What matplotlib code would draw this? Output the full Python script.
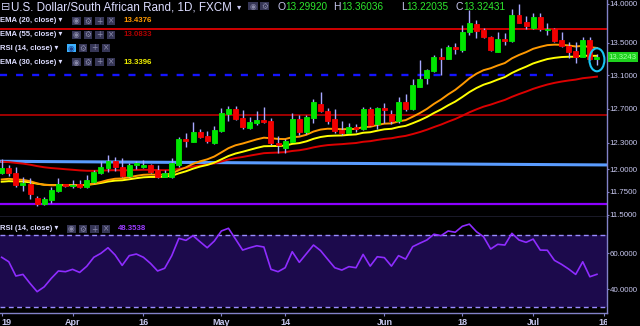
import numpy as np
import matplotlib
matplotlib.use("Agg")
import matplotlib.pyplot as plt
from matplotlib.patches import Rectangle, Ellipse
from matplotlib.ticker import FixedLocator, FormatStrFormatter, NullLocator
from matplotlib.transforms import Bbox, TransformedBbox

plt.rcParams['font.family'] = ['Liberation Sans', 'DejaVu Sans']

# daily candles USD/ZAR
opens = [11.962, 12.018, 11.959, 11.823, 11.837, 11.680, 11.618, 11.662, 11.760, 11.834,
         11.818, 11.837, 11.807, 11.862, 11.959, 12.015, 12.093, 12.029, 11.929, 12.045,
         12.026, 12.045, 11.993, 11.918, 11.918, 12.049, 12.344, 12.313, 12.425, 12.379,
         12.298, 12.437, 12.639, 12.698, 12.588, 12.468, 12.533, 12.565, 12.553, 12.298,
         12.238, 12.313, 12.577, 12.421, 12.588, 12.754, 12.671, 12.573, 12.448, 12.417,
         12.487, 12.456, 12.695, 12.518, 12.703, 12.639, 12.550, 12.777, 12.694, 12.961,
         13.070, 13.152, 13.329, 13.304, 13.454, 13.412, 13.636, 13.741, 13.665, 13.580,
         13.391, 13.547, 13.525, 13.857, 13.771, 13.687, 13.828, 13.665, 13.678, 13.538,
         13.466, 13.400, 13.329, 13.538, 13.29920]
highs = [12.116, 12.049, 12.023, 11.911, 11.900, 11.705, 11.691, 11.800, 11.900, 11.837,
         11.878, 11.881, 11.937, 11.993, 12.097, 12.161, 12.135, 12.124, 12.074, 12.093,
         12.105, 12.060, 12.049, 11.993, 12.124, 12.367, 12.410, 12.536, 12.463, 12.437,
         12.491, 12.703, 12.733, 12.733, 12.686, 12.597, 12.674, 12.718, 12.585, 12.379,
         12.348, 12.651, 12.624, 12.627, 12.813, 12.893, 12.706, 12.694, 12.557, 12.533,
         12.518, 12.715, 12.718, 12.722, 12.762, 12.683, 12.834, 12.877, 13.051, 13.288,
         13.177, 13.350, 13.434, 13.475, 13.504, 13.729, 13.922, 13.793, 13.690, 13.588,
         13.636, 13.623, 13.935, 14.000, 13.844, 13.879, 13.879, 13.750, 13.687, 13.644,
         13.517, 13.517, 13.580, 13.580, 13.36036]
lows = [11.948, 11.926, 11.807, 11.763, 11.673, 11.600, 11.607, 11.632, 11.746, 11.804,
        11.790, 11.790, 11.796, 11.851, 11.948, 11.973, 11.985, 11.911, 11.918, 12.007,
        12.011, 11.962, 11.900, 11.911, 11.903, 12.029, 12.256, 12.307, 12.356, 12.302,
        12.290, 12.425, 12.557, 12.561, 12.456, 12.463, 12.503, 12.526, 12.272, 12.181,
        12.181, 12.307, 12.387, 12.398, 12.526, 12.655, 12.518, 12.410, 12.390, 12.410,
        12.428, 12.448, 12.498, 12.456, 12.533, 12.518, 12.533, 12.667, 12.683, 12.954,
        12.994, 13.144, 13.103, 13.296, 13.362, 13.391, 13.601, 13.559, 13.559, 13.404,
        13.384, 13.475, 13.517, 13.750, 13.678, 13.678, 13.656, 13.601, 13.517, 13.454,
        13.309, 13.255, 13.322, 13.288, 13.22035]
closes = [12.018, 11.956, 11.823, 11.845, 11.724, 11.618, 11.673, 11.771, 11.834, 11.815,
          11.829, 11.800, 11.881, 11.967, 12.026, 12.093, 12.023, 11.929, 12.049, 12.074,
          12.049, 11.973, 11.911, 11.956, 12.074, 12.344, 12.318, 12.428, 12.371, 12.318,
          12.448, 12.643, 12.698, 12.580, 12.487, 12.541, 12.565, 12.541, 12.295, 12.272,
          12.325, 12.577, 12.425, 12.600, 12.777, 12.667, 12.557, 12.440, 12.417, 12.487,
          12.463, 12.698, 12.510, 12.703, 12.683, 12.553, 12.774, 12.694, 12.978, 13.054,
          13.165, 13.329, 13.300, 13.454, 13.425, 13.636, 13.750, 13.656, 13.572, 13.412,
          13.547, 13.525, 13.857, 13.758, 13.720, 13.828, 13.674, 13.678, 13.529, 13.462,
          13.391, 13.329, 13.538, 13.296, 13.32431]

ema20 = [11.887, 11.894, 11.887, 11.883, 11.868, 11.844, 11.828, 11.823, 11.824, 11.823,
         11.824, 11.822, 11.828, 11.841, 11.859, 11.881, 11.895, 11.898, 11.912, 11.927,
         11.939, 11.942, 11.939, 11.941, 11.954, 11.991, 12.022, 12.061, 12.090, 12.112,
         12.144, 12.191, 12.239, 12.272, 12.292, 12.316, 12.340, 12.359, 12.353, 12.345,
         12.343, 12.365, 12.371, 12.393, 12.430, 12.453, 12.463, 12.461, 12.457, 12.459,
         12.460, 12.482, 12.485, 12.506, 12.522, 12.525, 12.549, 12.563, 12.603, 12.646,
         12.695, 12.755, 12.807, 12.868, 12.922, 12.990, 13.062, 13.119, 13.162, 13.186,
         13.220, 13.250, 13.308, 13.350, 13.385, 13.427, 13.452, 13.473, 13.479, 13.477,
         13.469, 13.456, 13.464, 13.448, 13.4376]
ema30 = [11.862, 11.868, 11.865, 11.864, 11.855, 11.840, 11.829, 11.825, 11.826, 11.825,
         11.825, 11.823, 11.827, 11.836, 11.848, 11.864, 11.874, 11.878, 11.889, 11.901,
         11.911, 11.915, 11.915, 11.918, 11.928, 11.955, 11.978, 12.007, 12.031, 12.049,
         12.075, 12.112, 12.150, 12.178, 12.198, 12.220, 12.242, 12.261, 12.263, 12.264,
         12.268, 12.288, 12.297, 12.317, 12.346, 12.367, 12.379, 12.383, 12.385, 12.392,
         12.397, 12.416, 12.422, 12.440, 12.456, 12.462, 12.482, 12.496, 12.527, 12.561,
         12.600, 12.647, 12.689, 12.738, 12.782, 12.837, 12.896, 12.945, 12.985, 13.013,
         13.047, 13.078, 13.128, 13.169, 13.205, 13.245, 13.273, 13.299, 13.314, 13.324,
         13.328, 13.328, 13.342, 13.339, 13.3396]
ema55 = [12.086, 12.081, 12.072, 12.064, 12.052, 12.036, 12.023, 12.014, 12.008, 12.001,
         11.995, 11.988, 11.984, 11.983, 11.985, 11.989, 11.990, 11.988, 11.990, 11.993,
         11.995, 11.994, 11.991, 11.990, 11.993, 12.005, 12.016, 12.031, 12.043, 12.053,
         12.067, 12.088, 12.110, 12.127, 12.139, 12.154, 12.168, 12.182, 12.186, 12.189,
         12.194, 12.207, 12.215, 12.229, 12.248, 12.263, 12.274, 12.280, 12.285, 12.292,
         12.298, 12.312, 12.319, 12.333, 12.345, 12.353, 12.368, 12.380, 12.401, 12.424,
         12.451, 12.482, 12.511, 12.545, 12.576, 12.614, 12.655, 12.690, 12.722, 12.746,
         12.775, 12.802, 12.839, 12.872, 12.902, 12.935, 12.962, 12.987, 13.007, 13.023,
         13.036, 13.047, 13.064, 13.073, 13.0833]
rsi = [57.8, 55.3, 47.4, 48.3, 43.3, 38.7, 41.4, 46.1, 50.2, 49.8,
       51.1, 49.4, 52.8, 57.8, 60.0, 63.1, 59.1, 53.3, 58.7, 59.6,
       57.8, 54.4, 50.2, 51.7, 58.7, 68.3, 67.2, 69.8, 66.4, 63.1,
       66.8, 72.4, 73.9, 67.9, 61.8, 63.1, 64.2, 63.5, 51.1, 49.8,
       52.0, 60.9, 55.0, 59.8, 64.6, 61.5, 56.7, 52.0, 50.7, 52.6,
       52.0, 59.4, 52.9, 58.1, 57.6, 52.9, 58.7, 56.8, 63.7, 65.6,
       67.4, 70.6, 69.8, 72.4, 71.7, 75.0, 76.2, 72.0, 69.2, 62.4,
       65.0, 64.6, 71.1, 67.4, 66.1, 67.9, 61.8, 61.7, 56.1, 53.9,
       51.3, 48.3, 55.3, 47.0, 48.3538]

date_ticks = [0, 10, 20, 31, 40, 54, 65, 75, 85]
date_labels = ["19", "Apr", "16", "May", "14", "Jun", "18", "Jul", "16"]
price_ticks = [14.0, 13.5, 13.1, 12.7, 12.3, 12.0, 11.75, 11.5]
rsi_ticks = [60, 40]

# drawn levels
level_red = 13.674
level_blue = 13.105
level_darkred = 12.624
trend_blue = [12.090, 12.049]
level_purple = 11.618

W, H = 640, 326
AX_R = 607.0
MAIN_B = 217.3
RSI_B = 313.3
XLIM = (-0.24, 85.42)
AXIS_C = '#8282c8'
TXT_C = '#c8c8f0'


def fx(x):
    return x / W


def fy(y):
    return 1 - y / H


fig = plt.figure(figsize=(W / 100, H / 100), dpi=100, facecolor='black')
ax = fig.add_axes([0, fy(MAIN_B), AX_R / W, MAIN_B / H], facecolor='black')
ax2 = fig.add_axes([0, fy(RSI_B), AX_R / W, (RSI_B - MAIN_B) / H], facecolor='black')

idx = np.arange(len(closes))
o = np.array(opens)
c = np.array(closes)
up = c >= o
body_col = np.where(up, '#00e600', '#f20000')

# price panel
ax.set_yscale('log')
ax.set_xlim(*XLIM)
ax.set_ylim(11.475, 14.052)

ax.axhline(level_red, color='#d00000', lw=1.4, zorder=1)
ax.hlines(level_blue, XLIM[0], 78.4, colors='#1414ff', lw=1.7,
          linestyles=(0, (3.0, 3.8)), zorder=1)
ax.axhline(level_darkred, color='#a00000', lw=1.4, zorder=1)
ax.plot(XLIM, trend_blue, color='#5a9cff', lw=2.2, zorder=1)
ax.axhline(level_purple, color='#8c00ff', lw=1.6, zorder=1)

ax.plot(idx, ema55, color='#dc0000', lw=1.4, zorder=2)
ax.plot(idx, ema30, color='#ffff00', lw=1.4, zorder=2)
ax.plot(idx, ema20, color='#ff9900', lw=1.4, zorder=2)

ax.vlines(idx, lows, highs, colors='#a8a8ff', lw=1.0, zorder=3)
ax.bar(idx, np.abs(c - o), bottom=np.minimum(o, c), width=0.7,
       color=body_col, edgecolor=body_col, lw=0.6, zorder=4)

ax.yaxis.tick_right()
ax.yaxis.set_major_locator(FixedLocator(price_ticks))
ax.yaxis.set_major_formatter(FormatStrFormatter('%.4f'))
ax.yaxis.set_minor_locator(NullLocator())
ax.tick_params(axis='y', colors=AXIS_C, labelcolor=TXT_C, length=1.5, width=0.8,
               labelsize=5.7, pad=0.5)
ax.tick_params(axis='x', bottom=False, labelbottom=False)
for s in ['top', 'left']:
    ax.spines[s].set_visible(False)
for s in ['right', 'bottom']:
    ax.spines[s].set_color(AXIS_C)
    ax.spines[s].set_linewidth(1.0)

# circle around the last candle
cx, cy = ax.transAxes.inverted().transform(
    ax.transData.transform((idx[-1], np.sqrt(highs[-1] * lows[-1]))))
ax.add_patch(Ellipse((cx, cy), 15 / AX_R, 23 / MAIN_B, transform=ax.transAxes,
                     fill=False, ec='#18c4f4', lw=1.5, zorder=6, clip_on=False))

# last price tag
ax.text(1.003, closes[-1], f"{closes[-1]:.4f}", transform=ax.get_yaxis_transform(),
        va='center', ha='left', fontsize=5.6, color='#a4ffa4', clip_on=False,
        bbox=dict(boxstyle='square,pad=0.15', fc='#1ed21e', ec='none'), zorder=7)

# RSI panel
ax2.set_xlim(*XLIM)
ax2.set_ylim(26.7, 80)
ax2.axhspan(30, 70, color='#1c0a4c', lw=0, zorder=0)
for lv in (70, 30):
    ax2.axhline(lv, color='#9a8cff', lw=1.0, linestyle=(0, (3.5, 2.5)), zorder=1)
ax2.plot(idx, rsi, color='#8e2cff', lw=1.2, zorder=2)
ax2.yaxis.tick_right()
ax2.set_yticks(rsi_ticks)
ax2.yaxis.set_major_formatter(FormatStrFormatter('%.4f'))
ax2.set_xticks(date_ticks)
ax2.set_xticklabels(date_labels)
ax2.tick_params(axis='y', colors=AXIS_C, labelcolor=TXT_C, length=1.5, width=0.8,
                labelsize=5.7, pad=0.5)
ax2.tick_params(axis='x', colors=AXIS_C, labelcolor=TXT_C, length=2.5, width=0.8,
                labelsize=6.5, pad=1)
xlbls = ax2.get_xticklabels()
for lbl in xlbls:
    lbl.set_fontweight('bold')
    lbl.set_clip_on(True)
    lbl.set_clip_box(TransformedBbox(Bbox([[0, 0], [AX_R / W, 1]]), fig.transFigure))
xlbls[0].set_horizontalalignment('left')
for s in ['top', 'left']:
    ax2.spines[s].set_visible(False)
for s in ['right', 'bottom']:
    ax2.spines[s].set_color(AXIS_C)
    ax2.spines[s].set_linewidth(1.0)


# header / legend texts
def icons(x0, yc, n, first_on=False, w=8.5, h=8.0, step=11.5):
    glyphs = ['\u25c9', '\u2699', '+', '\u00d7'][:n]
    for k, g in enumerate(glyphs):
        x = x0 + k * step
        on = first_on and k == 0
        fig.patches.append(Rectangle((fx(x), fy(yc + h / 2)), w / W, h / H,
                                     transform=fig.transFigure, fc='#3bb0ff' if on else '#363656',
                                     ec='none', zorder=5))
        fig.text(fx(x + w / 2), fy(yc), g, ha='center', va='center', fontsize=5.5,
                 color='#1b3f8f' if on else '#8a8aaa', family='DejaVu Sans', zorder=6)


fig.text(fx(0.5), fy(7), '\u229f', color=TXT_C, fontsize=8.0, va='center', ha='left',
         family='DejaVu Sans')
fig.text(fx(11), fy(7), 'U.S. Dollar/South African Rand, 1D, FXCM', color='#dcdcff',
         fontsize=8.4, va='center', ha='left')
fig.text(fx(237), fy(6.5), '\u25be', color=TXT_C, fontsize=6, va='center', ha='left',
         family='DejaVu Sans')
icons(248, 6.2, 2, w=9.5, h=8.5, step=11.5)
ohlc = [('O', 277, 285, opens[-1]), ('H', 333, 341, highs[-1]),
        ('L', 401, 406, lows[-1]), ('C', 456, 463, closes[-1])]
for lab, xl, xv, v in ohlc:
    fig.text(fx(xl), fy(7), lab, color=TXT_C, fontsize=7.5, va='center', ha='left')
    fig.text(fx(xv), fy(7), f"{v:.5f}", color='#2ee82e', fontsize=7.2, va='center', ha='left')

legend_rows = [('EMA (20, close)', 21.0, f"{ema20[-1]:.4f}", '#ff9900', 72, False),
               ('EMA (55, close)', 34.5, f"{ema55[-1]:.4f}", '#b00000', 72, False),
               ('RSI (14, close)', 48.0, None, None, 67, True),
               ('EMA (30, close)', 62.0, f"{ema30[-1]:.4f}", '#f0f000', 72, False)]
for name, yc, val, vc, xi, on in legend_rows:
    fig.text(fx(0.5), fy(yc), name + ' \u25be', color='#dcdcff', fontsize=5.5,
             fontweight='bold', va='center', ha='left')
    icons(xi, yc, 4, first_on=on)
    if val:
        fig.text(fx(123), fy(yc), val, color=vc, fontsize=5.7, fontweight='bold',
                 va='center', ha='left')

fig.text(fx(0.5), fy(229), 'RSI (14, close) \u25be', color='#dcdcff', fontsize=5.5,
         fontweight='bold', va='center', ha='left')
icons(67, 229, 4)
fig.text(fx(118), fy(229), f"{rsi[-1]:.4f}", color='#9a3cff', fontsize=5.7,
         fontweight='bold', va='center', ha='left')

fig.savefig('out.png', dpi=100, facecolor='black')
